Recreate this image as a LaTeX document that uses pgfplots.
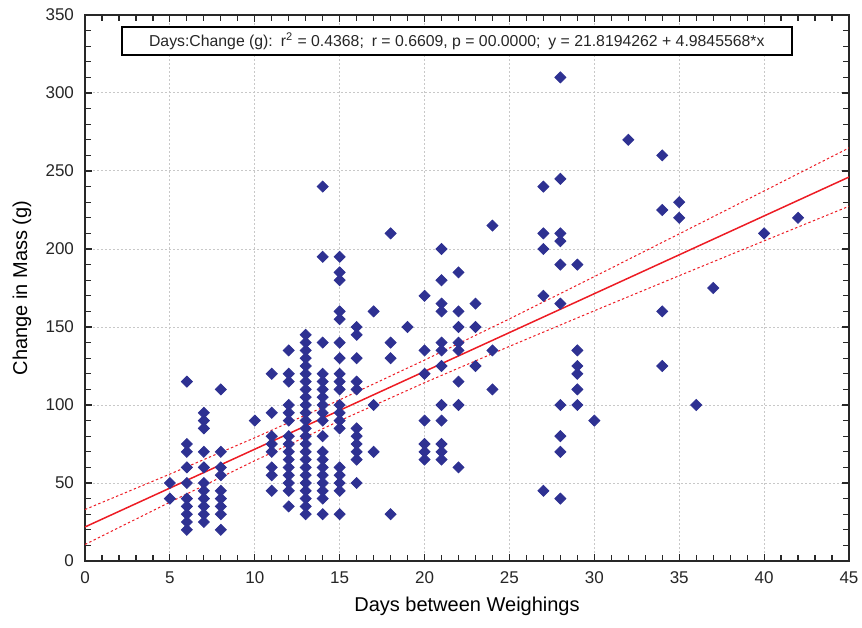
\documentclass[border=0pt]{standalone}
\usepackage{fontspec}
\setmainfont{Liberation Sans}
\usepackage{pgfplots}
\pgfplotsset{compat=1.18}
\definecolor{ptblue}{RGB}{46,49,146}
\definecolor{fitred}{RGB}{237,28,36}
\definecolor{gridgray}{RGB}{200,200,200}
\definecolor{axisgray}{RGB}{40,40,40}

\begin{document}
\begin{tikzpicture}
\useasboundingbox (-42.5pt,-33pt) rectangle (388.5pt,280.5pt);
\begin{axis}[
  scale only axis, width=382pt, height=273pt,
  xmin=0, xmax=45, ymin=0, ymax=350,
  xtick={0,5,...,45}, ytick={0,50,...,350},
  minor x tick num=4, minor y tick num=4,
  tick align=inside, major tick length=3.5pt, minor tick length=3pt,
  tick style={axisgray, line width=0.6pt},
  axis line style={axisgray, line width=1pt},
  grid=major, major grid style={gridgray, dash pattern=on 1pt off 1pt, line width=0.5pt},
  tick label style={font=\fontsize{8.5}{10}\selectfont, text=black!85},
  /pgf/number format/assume math mode=true,
  xticklabel style={yshift=-2pt},
  yticklabel style={xshift=-2pt},
  label style={font=\fontsize{9.9}{11}\selectfont, text=black!85},
  xlabel={Days between Weighings},
  ylabel={Change in Mass (g)},
  every axis x label/.style={at={(axis description cs:0.5,-0.0824)}, anchor=center},
  every axis y label/.style={at={(axis description cs:-0.0825,0.5)}, rotate=90, anchor=center},
]
\addplot[only marks, mark=square*, mark size=1.95pt,
  mark options={rotate=45, fill=ptblue, draw=ptblue}] coordinates {
(5,50) (5,40)
(6,115) (6,75) (6,70) (6,60) (6,50) (6,40) (6,35) (6,30) (6,25) (6,20)
(7,95) (7,90) (7,85) (7,70) (7,60) (7,50) (7,45) (7,40) (7,35) (7,30) (7,25)
(8,110) (8,70) (8,60) (8,55) (8,45) (8,40) (8,35) (8,30) (8,20)
(10,90)
(11,120) (11,95) (11,80) (11,75) (11,70) (11,60) (11,55) (11,45)
(12,135) (12,120) (12,115) (12,100) (12,95) (12,90) (12,80) (12,75) (12,70) (12,65) (12,60) (12,55) (12,50) (12,45) (12,35)
(13,30) (13,35) (13,40) (13,45) (13,50) (13,55) (13,60) (13,65) (13,70) (13,75) (13,80) (13,85)
(13,90) (13,95) (13,100) (13,105) (13,110) (13,115) (13,120) (13,125) (13,130) (13,135) (13,140) (13,145)
(14,240) (14,195) (14,140) (14,120) (14,115) (14,110) (14,105) (14,100) (14,95) (14,90) (14,80) (14,70) (14,65) (14,60) (14,55) (14,50) (14,45) (14,40) (14,30)
(15,195) (15,185) (15,180) (15,160) (15,155) (15,140) (15,130) (15,120) (15,115) (15,110) (15,100) (15,95) (15,90) (15,85) (15,60) (15,55) (15,50) (15,45) (15,30)
(16,150) (16,145) (16,130) (16,115) (16,110) (16,85) (16,80) (16,75) (16,70) (16,65) (16,50)
(17,160) (17,100) (17,70)
(18,210) (18,140) (18,130) (18,30)
(19,150)
(20,170) (20,135) (20,120) (20,90) (20,75) (20,70) (20,65)
(21,200) (21,180) (21,165) (21,160) (21,140) (21,135) (21,125) (21,100) (21,90) (21,75) (21,70) (21,65)
(22,185) (22,160) (22,150) (22,140) (22,135) (22,115) (22,100) (22,60)
(23,165) (23,150) (23,125)
(24,215) (24,135) (24,110)
(27,240) (27,210) (27,200) (27,170) (27,45)
(28,310) (28,245) (28,210) (28,205) (28,190) (28,165) (28,100) (28,80) (28,70) (28,40)
(29,190) (29,135) (29,125) (29,120) (29,110) (29,100)
(30,90)
(32,270)
(34,260) (34,225) (34,160) (34,125)
(35,230) (35,220)
(36,100)
(37,175)
(40,210)
(42,220)
};
\addplot[fitred, line width=0.75pt] coordinates {(0,21.82) (45,246.12)};
\addplot[fitred, line width=0.5pt, dash pattern=on 1.2pt off 1.2pt] coordinates {
(0,33.0) (5,55.7) (10,79.0) (15,103.3) (20,128.8) (25,155.2) (30,182.3) (35,209.7) (40,237.2) (45,264.8)};
\addplot[fitred, line width=0.5pt, dash pattern=on 1.2pt off 1.2pt] coordinates {
(0,10.6) (5,37.7) (10,64.3) (15,89.9) (20,114.3) (25,137.6) (30,160.4) (35,182.9) (40,205.2) (45,227.4)};
\node[draw=black, line width=0.7pt, fill=white, minimum width=335pt, minimum height=14pt,
  inner sep=0pt, font=\fontsize{7.9}{9}\selectfont, text=black!85] at (axis cs:21.9,333.3)
  {Days:Change (g):\hspace{0.5em}r\textsuperscript{2} = 0.4368;\hspace{0.5em}r = 0.6609, p = 00.0000;\hspace{0.5em}y = 21.8194262 + 4.9845568*x};
\end{axis}
\end{tikzpicture}
\end{document}
